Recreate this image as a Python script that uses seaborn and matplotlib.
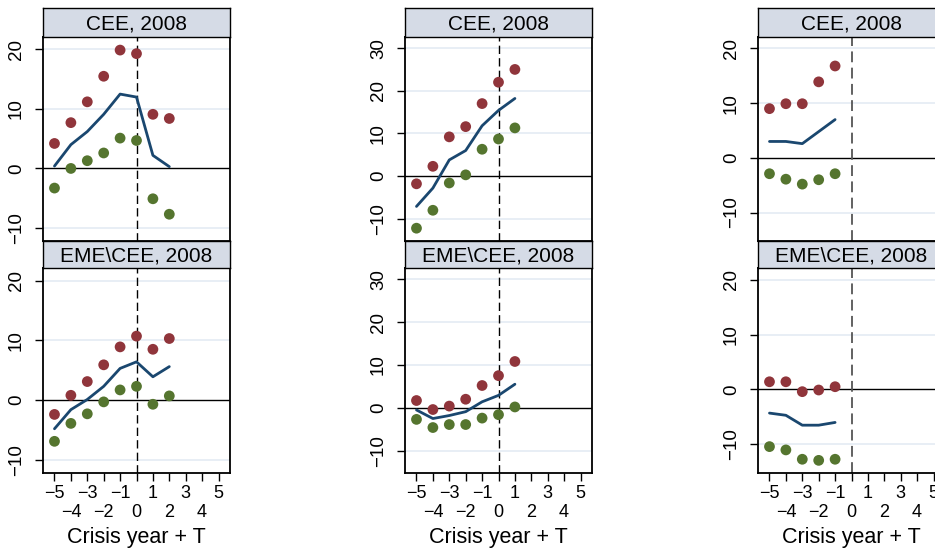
import matplotlib
matplotlib.use("Agg")
import matplotlib.pyplot as plt
import seaborn as sns

# data (x = crisis year + T)
x_col1 = [-5, -4, -3, -2, -1, 0, 1, 2]
x_col2 = [-5, -4, -3, -2, -1, 0, 1]
x_col3 = [-5, -4, -3, -2, -1]

col1_cee_hi = [4.2, 7.7, 11.2, 15.5, 19.9, 19.3, 9.1, 8.4]
col1_cee_mid = [0.4, 4.0, 6.2, 9.1, 12.5, 12.0, 2.2, 0.3]
col1_cee_lo = [-3.3, 0.0, 1.3, 2.6, 5.1, 4.7, -5.1, -7.7]
col1_eme_hi = [-2.4, 0.8, 3.1, 5.9, 8.9, 10.7, 8.5, 10.3]
col1_eme_mid = [-4.8, -1.6, 0.1, 2.3, 5.3, 6.4, 3.9, 5.6]
col1_eme_lo = [-6.9, -3.9, -2.3, -0.3, 1.7, 2.3, -0.7, 0.7]

col2_cee_hi = [-1.8, 2.3, 9.2, 11.6, 17.0, 22.0, 25.0]
col2_cee_mid = [-7.1, -2.8, 3.8, 6.0, 11.8, 15.4, 18.2]
col2_cee_lo = [-12.2, -8.0, -1.6, 0.3, 6.3, 8.7, 11.3]
col2_eme_hi = [1.7, -0.4, 0.4, 2.0, 5.2, 7.5, 10.8]
col2_eme_mid = [-0.5, -2.5, -1.8, -0.9, 1.4, 2.9, 5.5]
col2_eme_lo = [-2.7, -4.6, -3.9, -3.9, -2.4, -1.6, 0.2]

col3_cee_hi = [9.0, 9.9, 9.9, 13.9, 16.8]
col3_cee_mid = [3.0, 3.0, 2.6, 4.8, 7.0]
col3_cee_lo = [-2.9, -3.9, -4.8, -4.0, -2.9]
col3_eme_hi = [1.4, 1.4, -0.4, -0.1, 0.5]
col3_eme_mid = [-4.3, -4.7, -6.5, -6.5, -6.0]
col3_eme_lo = [-10.4, -11.0, -12.7, -12.9, -12.7]

panel_titles = ["CEE, 2008", "EME\\CEE, 2008"]
x_ticks_odd = [-5, -3, -1, 1, 3, 5]
x_ticks_even = [-4, -2, 0, 2, 4]
y_ticks = [[-10, 0, 10, 20], [-10, 0, 10, 20, 30], [-10, 0, 10, 20]]
y_limits = [(-12.2, 22.1), (-15.2, 32.6), (-15.2, 22.1)]


def fmt(v):
    return ("\u2212" if v < 0 else "") + str(abs(v))


sns.set_style("white")
plt.rcParams["font.family"] = ["Liberation Sans", "DejaVu Sans"]
plt.rcParams["text.color"] = "black"
plt.rcParams["xtick.color"] = "black"
plt.rcParams["ytick.color"] = "black"

RED = "#90353B"
GREEN = "#55752F"
NAVY = "#1A476F"
STRIP = "#D5DBE6"
GRID = "#E6EDF4"

W, H = 935, 548
fig = plt.figure(figsize=(W / 100, H / 100), dpi=100)


def box(l, t, r, b):
    return [l / W, 1 - b / H, (r - l) / W, (b - t) / H]


columns = [
    (x_col1, [(col1_cee_hi, col1_cee_mid, col1_cee_lo), (col1_eme_hi, col1_eme_mid, col1_eme_lo)]),
    (x_col2, [(col2_cee_hi, col2_cee_mid, col2_cee_lo), (col2_eme_hi, col2_eme_mid, col2_eme_lo)]),
    (x_col3, [(col3_cee_hi, col3_cee_mid, col3_cee_lo), (col3_eme_hi, col3_eme_mid, col3_eme_lo)]),
]
col_left = [43, 405, 758]
col_w = 187
rows = [(8, 37, 241), (241, 268, 473)]  # strip top, plot top, plot bottom

for ci, (xs, panels) in enumerate(columns):
    l = col_left[ci]
    r = l + col_w
    for ri, (hi, mid, lo) in enumerate(panels):
        st, pt, pb = rows[ri]
        ax = fig.add_axes(box(l, pt, r, pb))
        for yt in y_ticks[ci]:
            if yt != 0:
                ax.axhline(yt, color=GRID, lw=1.3, zorder=0)
        ax.axhline(0, color="black", lw=1.0, zorder=1)
        vcol = "black" if ci < 2 else "#555555"
        ax.axvline(0, color=vcol, lw=1.0 if ci < 2 else 1.3, dashes=(6, 3), zorder=1)
        sns.lineplot(x=xs, y=mid, ax=ax, color=NAVY, lw=2.0, zorder=3)
        sns.scatterplot(x=xs, y=hi, ax=ax, color=RED, s=60, edgecolor="none", zorder=4)
        sns.scatterplot(x=xs, y=lo, ax=ax, color=GREEN, s=60, edgecolor="none", zorder=4)
        ax.set_xlim(-5.7, 5.7)
        ax.set_ylim(*y_limits[ci])
        ax.set_yticks(y_ticks[ci])
        ax.set_yticklabels([fmt(t) for t in y_ticks[ci]])
        ax.tick_params(axis="y", direction="out", length=6, width=1, labelsize=13.5,
                       labelrotation=90, pad=7, left=True)
        for lab in ax.get_yticklabels():
            lab.set_va("center")
        if ri == 1:
            ax.set_xticks(x_ticks_odd)
            ax.set_xticklabels([fmt(t) for t in x_ticks_odd])
            ax.set_xticks(x_ticks_even, minor=True)
            ax.set_xticklabels([fmt(t) for t in x_ticks_even], minor=True)
            ax.tick_params(axis="x", which="major", direction="out", length=6, width=1,
                           labelsize=13, pad=3, bottom=True)
            ax.tick_params(axis="x", which="minor", direction="out", length=6, width=1,
                           labelsize=13, pad=16.5, bottom=True)
        else:
            ax.set_xticks([])
        ax.set_xlabel("")
        ax.set_ylabel("")
        for sp in ax.spines.values():
            sp.set_color("black")
            sp.set_linewidth(1.3)
        # strip with panel title
        sax = fig.add_axes(box(l, st, r, pt))
        sax.set_facecolor(STRIP)
        sax.set_xticks([])
        sax.set_yticks([])
        for sp in sax.spines.values():
            sp.set_color("black")
            sp.set_linewidth(1.0)
        sax.text(0.5, 0.45, panel_titles[ri], ha="center", va="center",
                 fontsize=15, transform=sax.transAxes)
    fig.text((l + r) / 2 / W, 1 - 543.5 / H, "Crisis year + T", ha="center",
             va="baseline", fontsize=15.5)

fig.savefig("out.png", dpi=100)
